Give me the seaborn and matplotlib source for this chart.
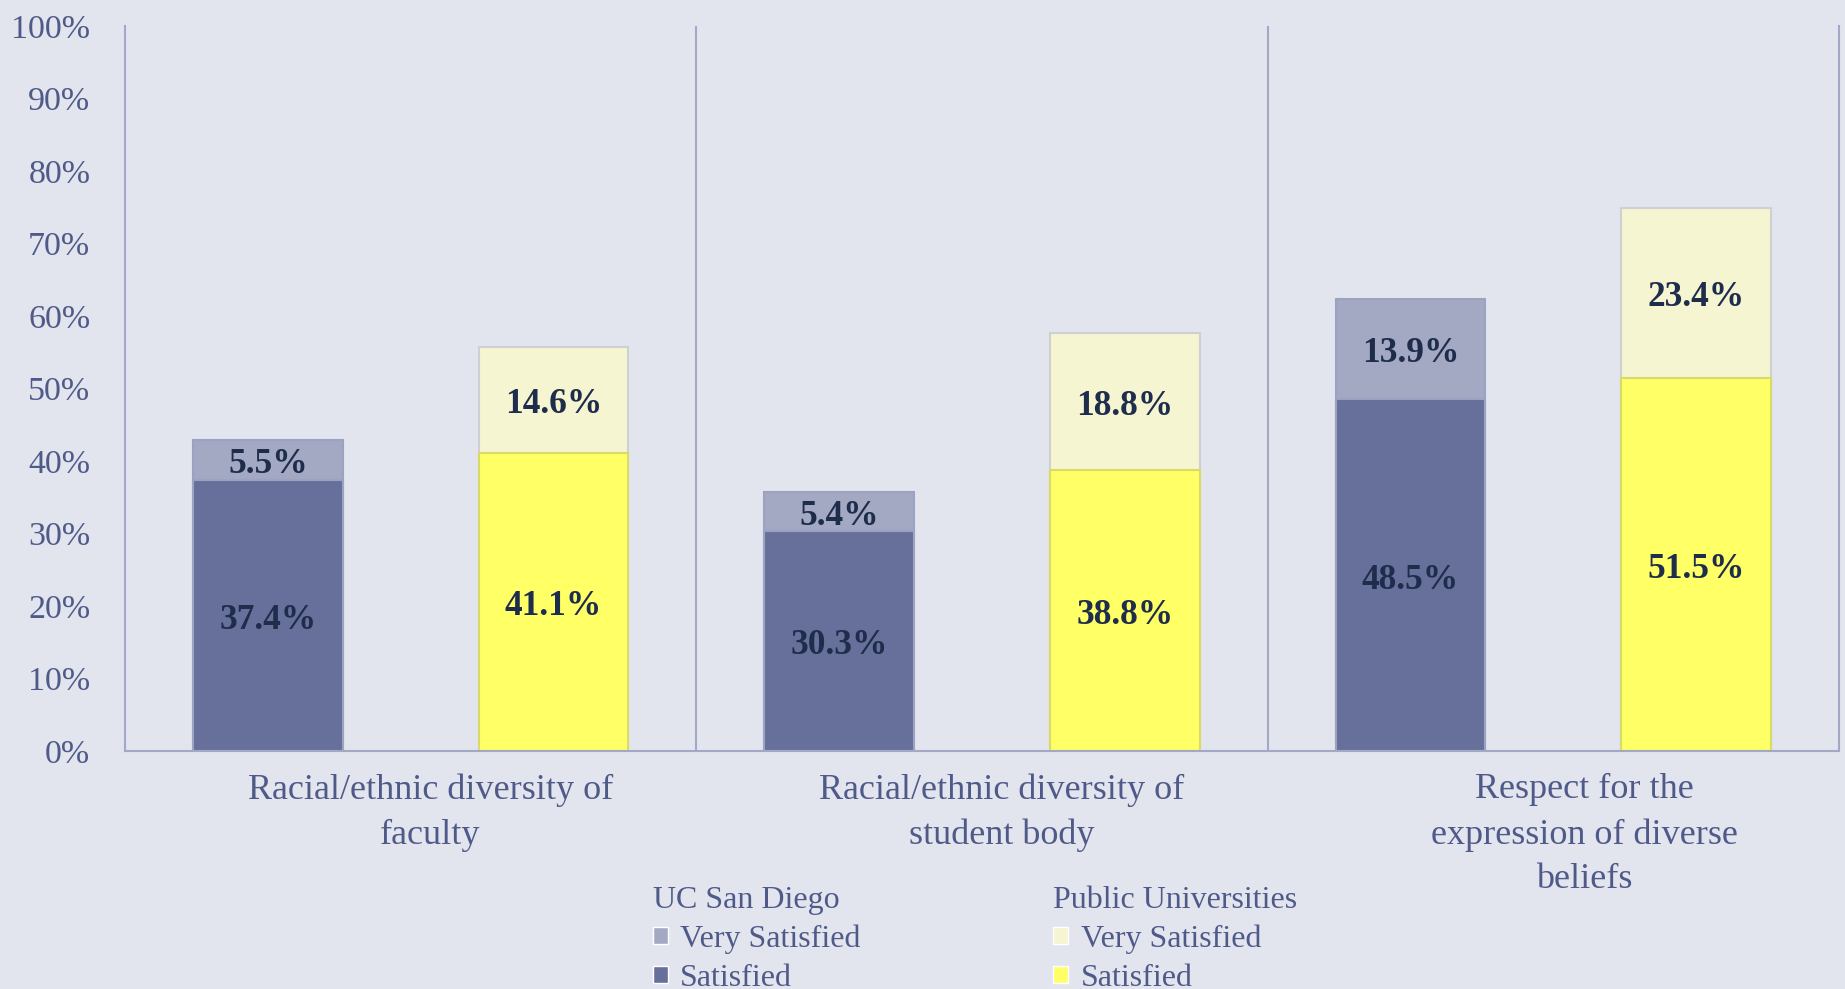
import matplotlib
matplotlib.use("Agg")
import matplotlib.pyplot as plt
import matplotlib.transforms as mtransforms
from matplotlib.patches import Patch
import pandas as pd
import seaborn as sns

categories = [
    "Racial/ethnic diversity of\nfaculty",
    "Racial/ethnic diversity of\nstudent body",
    "Respect for the\nexpression of diverse\nbeliefs",
]
schools = ["UC San Diego", "Public Universities"]
ucsd_satisfied = [37.4, 30.3, 48.5]
ucsd_very = [5.5, 5.4, 13.9]
public_satisfied = [41.1, 38.8, 51.5]
public_very = [14.6, 18.8, 23.4]
y_ticks = list(range(0, 101, 10))

BG = "#e2e5ee"
TEXT = "#4f5a89"
LABEL = "#1f2d4c"
LINE = "#a3a8c4"
sat_colors = {"UC San Diego": "#67709a", "Public Universities": "#ffff66"}
very_colors = {"UC San Diego": "#a3a8c3", "Public Universities": "#f5f5d2"}
edge_colors = {"UC San Diego": "#9ca2c2", "Public Universities": "#dada6a"}
very_edge = {"UC San Diego": "#9ca2c2", "Public Universities": "#cfd0d2"}

rows = []
for i, cat in enumerate(categories):
    rows.append({"category": cat, "school": schools[0],
                 "satisfied": ucsd_satisfied[i], "very": ucsd_very[i]})
    rows.append({"category": cat, "school": schools[1],
                 "satisfied": public_satisfied[i], "very": public_very[i]})
df = pd.DataFrame(rows)
df["total"] = df["satisfied"] + df["very"]

sns.set_theme(style="white")
plt.rcParams["font.family"] = ["Liberation Serif", "DejaVu Serif"]

fig = plt.figure(figsize=(18.45, 9.89), dpi=100, facecolor=BG)
ax = fig.add_axes([0.0678, 0.2407, 0.929, 0.733])
ax.set_facecolor(BG)

bar_kw = dict(x="category", hue="school", order=categories, hue_order=schools,
              width=1.0, gap=0.476, legend=False, ax=ax, errorbar=None, saturation=1)
sns.barplot(data=df, y="total", palette=very_colors, **bar_kw)
sns.barplot(data=df, y="satisfied", palette=sat_colors, **bar_kw)

n = len(schools)
for k, cont in enumerate(ax.containers):
    school = schools[k % n]
    layer_very = k < n
    sub = df[df["school"] == school].set_index("category").loc[categories]
    for bar, (_, r) in zip(cont.patches, sub.iterrows()):
        bar.set_edgecolor(very_edge[school] if layer_very else edge_colors[school])
        bar.set_linewidth(1.5)
        cx = bar.get_x() + bar.get_width() / 2
        if layer_very:
            y, txt = r["satisfied"] + r["very"] / 2, f"{r['very']:.1f}%"
        else:
            y, txt = r["satisfied"] / 2, f"{r['satisfied']:.1f}%"
        ax.annotate(txt, (cx, y), xytext=(0, -3.5), textcoords="offset points",
                    ha="center", va="center", fontsize=25.5,
                    fontweight="bold", color=LABEL)

ax.set_xlim(-0.5, len(categories) - 0.5)
ax.set_ylim(0, 100)
ax.set_yticks(y_ticks)
ax.set_yticklabels([f"{t}%" for t in y_ticks])
for i in range(len(categories) - 1):
    ax.axvline(i + 0.5, color=LINE, lw=1.5)
for side in ["left", "right", "bottom"]:
    ax.spines[side].set_visible(True)
    ax.spines[side].set_color(LINE)
    ax.spines[side].set_linewidth(1.5)
ax.spines["top"].set_visible(False)
ax.set_xlabel("")
ax.set_ylabel("")
ax.tick_params(axis="y", length=0, pad=25, labelsize=24.5, labelcolor=TEXT)
ax.tick_params(axis="x", length=0, pad=16, labelsize=26, labelcolor=TEXT)
# labels sit a bit right of the group centre in the original
for lab, dx in zip(ax.get_xticklabels(), [14, 14, 22]):
    lab.set_linespacing(1.47)
    lab.set_transform(lab.get_transform() +
                      mtransforms.ScaledTranslation(dx / 72, 0, fig.dpi_scale_trans))

for school, xpos in zip(schools, [0.354, 0.571]):
    handles = [Patch(facecolor=very_colors[school], label="Very Satisfied"),
               Patch(facecolor=sat_colors[school], label="Satisfied")]
    leg = fig.legend(handles=handles, title=school, loc="upper left",
                     bbox_to_anchor=(xpos, 0.104), frameon=False, fontsize=23,
                     title_fontsize=23, alignment="left", handlelength=0.45,
                     handleheight=0.45, handletextpad=0.4, labelspacing=0.3,
                     borderpad=0, borderaxespad=0, labelcolor=TEXT)
    leg.get_title().set_color(TEXT)

fig.savefig("out.png", dpi=100, facecolor=BG)
